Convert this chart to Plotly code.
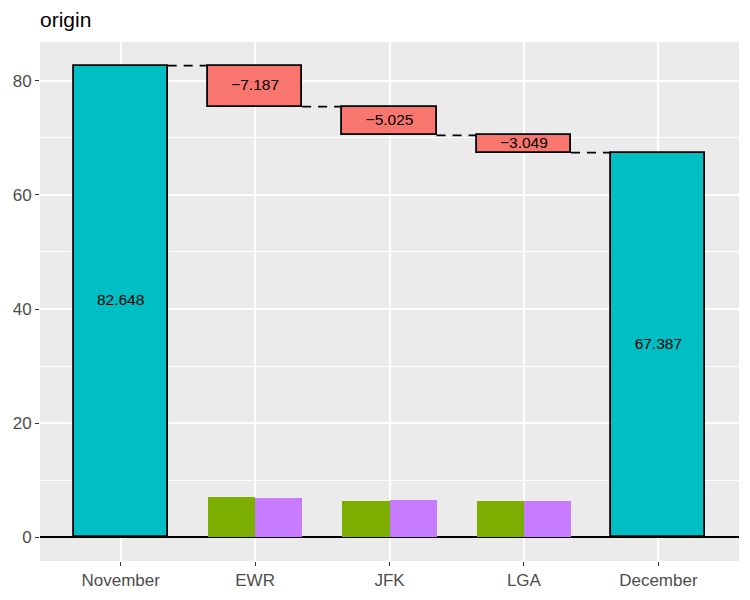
import plotly.graph_objects as go

# ---- data ----
categories = ["November", "EWR", "JFK", "LGA", "December"]
start_total = 82.648
end_total = 67.387
origins = ["EWR", "JFK", "LGA"]
changes = [-7.187, -5.025, -3.049]
group_a = [7.15, 6.45, 6.45]   # green bars
group_b = [6.98, 6.62, 6.45]   # purple bars
y_ticks = [0, 20, 40, 60, 80]

# ---- derived ----
xpos = {c: i for i, c in enumerate(categories)}
bases = []
level = start_total
for ch in changes:
    bases.append(level)
    level += ch

BAR_W = 0.7
TEAL = "#00BFC4"
RED = "#F8766D"
GREEN = "#7CAE00"
PURPLE = "#C77CFF"
FONT = "Liberation Sans, Arial, sans-serif"

fig = go.Figure()

# totals
tot_x = [xpos["November"], xpos["December"]]
tot_y = [start_total, end_total]
fig.add_trace(go.Bar(x=tot_x, y=tot_y, width=BAR_W, marker=dict(color=TEAL, line=dict(color="black", width=1.8)),
                     showlegend=False, hoverinfo="skip"))

# changes
ch_x = [xpos[o] for o in origins]
fig.add_trace(go.Bar(x=ch_x, y=changes, base=bases, width=BAR_W,
                     marker=dict(color=RED, line=dict(color="black", width=1.8)),
                     showlegend=False, hoverinfo="skip"))

# small grouped bars
fig.add_trace(go.Bar(x=ch_x, y=group_a, width=BAR_W / 2, offset=-BAR_W / 2,
                     marker=dict(color=GREEN, line=dict(width=0)), showlegend=False, hoverinfo="skip"))
fig.add_trace(go.Bar(x=ch_x, y=group_b, width=BAR_W / 2, offset=0,
                     marker=dict(color=PURPLE, line=dict(width=0)), showlegend=False, hoverinfo="skip"))

# connectors
levels = [start_total] + [b + c for b, c in zip(bases, changes)]
cx, cy = [], []
for i in range(len(categories) - 1):
    cx += [i + BAR_W / 2, i + 1 - BAR_W / 2, None]
    cy += [levels[i], levels[i], None]
fig.add_trace(go.Scatter(x=cx, y=cy, mode="lines", line=dict(color="black", width=1.8, dash="9px,7px"),
                         showlegend=False, hoverinfo="skip"))

# labels
lab_x = tot_x + ch_x
lab_y = [v / 2 for v in tot_y] + [b + c / 2 for b, c in zip(bases, changes)]
lab_t = [f"{v:.3f}" for v in tot_y] + [f"\u2212{abs(c):.3f}" for c in changes]
fig.add_trace(go.Scatter(x=lab_x, y=lab_y, text=lab_t, mode="text",
                         textfont=dict(family=FONT, size=15.5, color="black"),
                         showlegend=False, hoverinfo="skip"))

fig.update_layout(
    template="none",
    width=750, height=600,
    margin=dict(l=32, r=19, t=34, b=47, autoexpand=False),
    paper_bgcolor="white", plot_bgcolor="#EBEBEB",
    barmode="overlay", bargap=0,
    font=dict(family=FONT),
    title=dict(text="origin", x=32 / 750, xref="container", xanchor="left", y=1 - 12 / 600, yref="container",
               yanchor="middle", font=dict(family=FONT, size=21, color="black")),
)
fig.update_xaxes(range=[-0.6, len(categories) - 0.4], tickmode="array", automargin=False,
                 tickvals=list(range(len(categories))), ticktext=categories,
                 showgrid=True, gridcolor="white", gridwidth=1.8, zeroline=False, showline=False,
                 ticks="outside", ticklen=4, tickcolor="#333333", tickwidth=1.3,
                 tickfont=dict(family=FONT, size=17, color="#4D4D4D"))
fig.update_yaxes(range=[-4.13, 86.78], tickmode="array", tickvals=y_ticks, automargin=False,
                 showgrid=True, gridcolor="white", gridwidth=1.8, showline=False,
                 minor=dict(dtick=10, tick0=0, showgrid=True, gridcolor="white", gridwidth=0.9),
                 zeroline=True, zerolinecolor="black", zerolinewidth=2,
                 ticks="outside", ticklen=4, tickcolor="#333333", tickwidth=1.3,
                 tickfont=dict(family=FONT, size=17, color="#4D4D4D"))

fig.write_html("out.html")
